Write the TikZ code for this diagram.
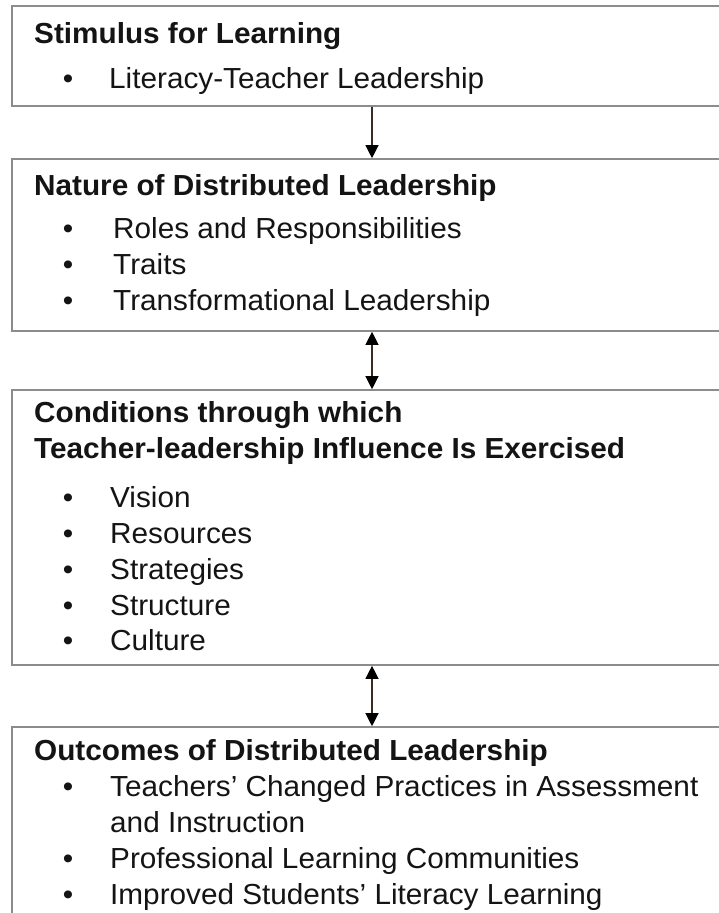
\documentclass[tikz,border=0pt]{standalone}
\usepackage{fontspec}
\setmainfont[FakeStretch=1.025]{Liberation Sans}
\usetikzlibrary{arrows.meta}
\definecolor{boxline}{HTML}{8C8C8C}
\definecolor{txt}{HTML}{141414}
\definecolor{arrline}{HTML}{3A2A20}
\tikzset{
  stagebox/.style={draw=boxline, line width=1.6pt, fill=white, rectangle, inner sep=0pt},
  ttl/.style={anchor=base west, inner sep=0pt, text=txt, font=\fontsize{29}{36}\selectfont\bfseries},
  itm/.style={anchor=base west, inner sep=0pt, text=txt, font=\fontsize{29}{36}\selectfont},
  bul/.style={anchor=base, inner sep=0pt, text=txt, font=\fontsize{29}{36}\selectfont},
  link/.style={draw=arrline, line width=1.2pt, -{Triangle[length=13pt,width=13pt,color=black]}},
  dlink/.style={draw=arrline, line width=1.2pt, {Triangle[length=13pt,width=13pt,color=black]}-{Triangle[length=13pt,width=13pt,color=black]}}
}
\begin{document}
\begin{tikzpicture}[x=1pt,y=-1pt]
\useasboundingbox (0,0) rectangle (719,913);
\clip (0,0) rectangle (719,913);
% boxes
\node[stagebox, minimum width=718pt, minimum height=100pt] (b1) at (371,56) {};
\node[stagebox, minimum width=718pt, minimum height=172pt] (b2) at (371,245) {};
\node[stagebox, minimum width=718pt, minimum height=275pt] (b3) at (371,527.5) {};
\node[stagebox, minimum width=718pt, minimum height=210pt] (b4) at (371,832) {};
% box 1
\node[ttl] (t1) at (34,43) {Stimulus for Learning};
\node[bul] (p11) at (68,88) {•};
\node[itm] (i11) at (109,88) {Literacy-Teacher Leadership};
% box 2
\node[ttl] (t2) at (34,195) {Nature of Distributed Leadership};
\node[bul] (p21) at (68,238) {•};
\node[itm] (i21) at (113,238) {Roles and Responsibilities};
\node[bul] (p22) at (68,274) {•};
\node[itm] (i22) at (113,274) {Traits};
\node[bul] (p23) at (68,310) {•};
\node[itm] (i23) at (113,310) {Transformational Leadership};
% box 3
\node[ttl] (t3a) at (34,422) {Conditions through which};
\node[ttl] (t3b) at (34,458) {Teacher-leadership Influence Is Exercised};
\node[bul] (p31) at (68,507) {•};
\node[itm] (i31) at (110,507) {Vision};
\node[bul] (p32) at (68,543) {•};
\node[itm] (i32) at (110,543) {Resources};
\node[bul] (p33) at (68,579) {•};
\node[itm] (i33) at (110,579) {Strategies};
\node[bul] (p34) at (68,615) {•};
\node[itm] (i34) at (110,615) {Structure};
\node[bul] (p35) at (68,650) {•};
\node[itm] (i35) at (110,650) {Culture};
% box 4
\node[ttl] (t4) at (34,760) {Outcomes of Distributed Leadership};
\node[bul] (p41) at (68,796) {•};
\node[itm] (i41) at (110,796) {Teachers’ Changed Practices in Assessment};
\node[itm] (i41b) at (110,832) {and Instruction};
\node[bul] (p42) at (68,868) {•};
\node[itm] (i42) at (110,868) {Professional Learning Communities};
\node[bul] (p43) at (68,904) {•};
\node[itm] (i43) at (110,904) {Improved Students’ Literacy Learning};
% connectors
\draw[link] ([xshift=1pt]b1.south) -- ([xshift=1pt]b2.north);
\draw[dlink] ([xshift=1pt]b2.south) -- ([xshift=1pt]b3.north);
\draw[dlink] ([xshift=1pt]b3.south) -- ([xshift=1pt]b4.north);
\end{tikzpicture}
\end{document}
